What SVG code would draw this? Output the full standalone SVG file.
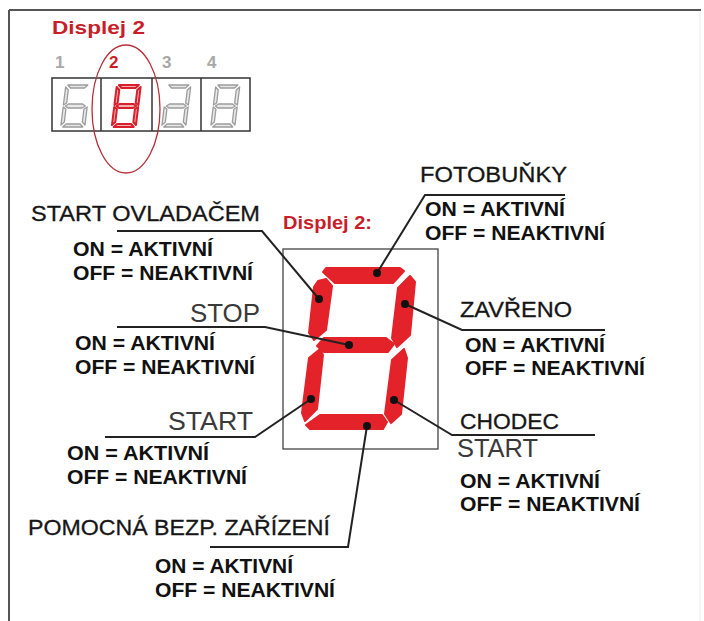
<svg xmlns="http://www.w3.org/2000/svg" xmlns:xlink="http://www.w3.org/1999/xlink" width="704" height="621" viewBox="0 0 704 621">
<style>
.lbl{font-family:"Liberation Sans",Arial,sans-serif;font-size:22px;fill:#161616;stroke:#161616;stroke-width:0.3;}
.gl{font-family:"Liberation Sans",Arial,sans-serif;font-size:25px;fill:#3a3a3a;}
.st{font-family:"Liberation Sans",Arial,sans-serif;font-size:21px;font-weight:bold;fill:#111;}
.red{font-family:"Liberation Sans",Arial,sans-serif;font-weight:bold;fill:#c81e2a;}
.num{font-family:"Liberation Sans",Arial,sans-serif;font-size:17px;font-weight:bold;fill:#a8a8a8;}
.lead{fill:none;stroke:#222;stroke-width:2;stroke-linejoin:miter;}
.seg{fill:#e3222a;stroke:#e3222a;stroke-width:2;stroke-linejoin:round;}
.dot{fill:#111;}
.sg{fill:#e8e8e8;stroke:#9c9c9c;stroke-width:1.3;stroke-linejoin:round;}
.sr{fill:#f2b3b5;stroke:#d81f2a;stroke-width:2;stroke-linejoin:round;}
</style>
<defs>
<g id="sTop"><path d="M3,1 L23,1 L20,4 L6,4 Z"/></g>
<g id="sUL"><path d="M1,3 L4,6 L4,19 L1,21 Z"/></g>
<g id="sUR"><path d="M25,3 L25,21 L22,19 L22,6 Z"/></g>
<g id="sMid"><path d="M3,22 L6,20 L20,20 L23,22 L20,24 L6,24 Z"/></g>
<g id="sLL"><path d="M1,23 L4,25 L4,38 L1,41 Z"/></g>
<g id="sLR"><path d="M25,23 L25,41 L22,38 L22,25 Z"/></g>
<g id="sBot"><path d="M3,43 L6,40 L20,40 L23,43 Z"/></g>
</defs>
<rect x="0" y="0" width="704" height="621" fill="#fff"/>
<g id="frame">
<line x1="9" y1="10" x2="701" y2="10" stroke="#555" stroke-width="2"/>
<line x1="9" y1="10" x2="9" y2="621" stroke="#555" stroke-width="2"/>
<line x1="700" y1="11" x2="700" y2="621" stroke="#eee" stroke-width="1"/>
</g>
<g id="mini-display">
<text class="red" x="52" y="34" font-size="19" textLength="93" lengthAdjust="spacingAndGlyphs">Displej 2</text>
<text class="num" x="55" y="68">1</text>
<text class="num" x="109" y="68" style="fill:#c81e2a">2</text>
<text class="num" x="162" y="68">3</text>
<text class="num" x="207" y="68">4</text>
<rect x="52" y="78" width="198" height="53" fill="none" stroke="#333" stroke-width="1.5"/>
<line x1="101" y1="78" x2="101" y2="131" stroke="#333" stroke-width="1.5"/>
<line x1="152" y1="78" x2="152" y2="131" stroke="#333" stroke-width="1.5"/>
<line x1="201" y1="78" x2="201" y2="131" stroke="#333" stroke-width="1.5"/>
<g class="sg" transform="translate(65,84) skewX(-7)">
<use xlink:href="#sTop"/><use xlink:href="#sUL"/><use xlink:href="#sMid"/><use xlink:href="#sLL"/><use xlink:href="#sLR"/><use xlink:href="#sBot"/>
</g>
<g class="sr" transform="translate(116,84) skewX(-7)">
<use xlink:href="#sTop"/><use xlink:href="#sUL"/><use xlink:href="#sUR"/><use xlink:href="#sMid"/><use xlink:href="#sLL"/><use xlink:href="#sLR"/><use xlink:href="#sBot"/>
</g>
<g class="sg" transform="translate(166,84) skewX(-7)">
<use xlink:href="#sTop"/><use xlink:href="#sUR"/><use xlink:href="#sMid"/><use xlink:href="#sLL"/><use xlink:href="#sLR"/><use xlink:href="#sBot"/>
</g>
<g class="sg" transform="translate(215,84) skewX(-7)">
<use xlink:href="#sTop"/><use xlink:href="#sUL"/><use xlink:href="#sUR"/><use xlink:href="#sMid"/><use xlink:href="#sLL"/><use xlink:href="#sLR"/><use xlink:href="#sBot"/>
</g>
<ellipse cx="126" cy="109" rx="34" ry="64" fill="none" stroke="#b8303a" stroke-width="1.3"/>
</g>
<g id="main-display">
<text class="red" x="283" y="229" font-size="18" textLength="89" lengthAdjust="spacingAndGlyphs">Displej 2:</text>
<rect x="283" y="249" width="155" height="200" fill="none" stroke="#444" stroke-width="1.3"/>
<polygon class="seg" points="326,268 400,268 404,271 393,283 335,283 323,272"/>
<polygon class="seg" points="318,281 326,279 332,286 326,330 314,340 309,333 314,287"/>
<polygon class="seg" points="398,288 410,276 415,282 410,335 397,347 392,338"/>
<polygon class="seg" points="324,338 386,338 394,344 388,352 324,352 317,346"/>
<polygon class="seg" points="309,358 320,349 323,355 317,409 305,421 302,413"/>
<polygon class="seg" points="392,360 404,349 407,358 401,414 391,423 385,414"/>
<polygon class="seg" points="320,415 382,415 387,422 383,429 310,429 306,425"/>
</g>
<g id="connectors">
<polyline class="lead" points="117,231 262,231 319,299"/>
<polyline class="lead" points="117,327 265,327 349,345"/>
<polyline class="lead" points="105,437 255,437 311,399"/>
<polyline class="lead" points="565,195 425,195 377,273"/>
<polyline class="lead" points="405,304 462,330 605,330"/>
<polyline class="lead" points="394,400 452,435 595,435"/>
<polyline class="lead" points="367,426 348,547 210,547"/>
</g>
<g id="dots">
<circle class="dot" cx="377" cy="273" r="4"/>
<circle class="dot" cx="319" cy="299" r="4"/>
<circle class="dot" cx="405" cy="304" r="4"/>
<circle class="dot" cx="349" cy="345" r="4"/>
<circle class="dot" cx="311" cy="399" r="4"/>
<circle class="dot" cx="394" cy="400" r="4"/>
<circle class="dot" cx="367" cy="426" r="4"/>
</g>
<g id="start-ovladacem">
<text class="lbl" x="31" y="221" textLength="229" lengthAdjust="spacingAndGlyphs">START OVLADAČEM</text>
<text class="st" x="73" y="256" textLength="140" lengthAdjust="spacingAndGlyphs">ON = AKTIVNÍ</text>
<text class="st" x="73" y="280" textLength="180" lengthAdjust="spacingAndGlyphs">OFF = NEAKTIVNÍ</text>
</g>
<g id="stop">
<text class="gl" x="190" y="322" textLength="70" lengthAdjust="spacingAndGlyphs">STOP</text>
<text class="st" x="75" y="350" textLength="140" lengthAdjust="spacingAndGlyphs">ON = AKTIVNÍ</text>
<text class="st" x="75" y="374" textLength="180" lengthAdjust="spacingAndGlyphs">OFF = NEAKTIVNÍ</text>
</g>
<g id="start">
<text class="gl" x="168" y="430" textLength="85" lengthAdjust="spacingAndGlyphs">START</text>
<text class="st" x="67" y="460" textLength="142" lengthAdjust="spacingAndGlyphs">ON = AKTIVNÍ</text>
<text class="st" x="67" y="484" textLength="180" lengthAdjust="spacingAndGlyphs">OFF = NEAKTIVNÍ</text>
</g>
<g id="fotobunky">
<text class="lbl" x="420" y="182" textLength="147" lengthAdjust="spacingAndGlyphs">FOTOBUŇKY</text>
<text class="st" x="425" y="216" textLength="140" lengthAdjust="spacingAndGlyphs">ON = AKTIVNÍ</text>
<text class="st" x="425" y="240" textLength="180" lengthAdjust="spacingAndGlyphs">OFF = NEAKTIVNÍ</text>
</g>
<g id="zavreno">
<text class="lbl" x="460" y="317" textLength="112" lengthAdjust="spacingAndGlyphs">ZAVŘENO</text>
<text class="st" x="465" y="352" textLength="140" lengthAdjust="spacingAndGlyphs">ON = AKTIVNÍ</text>
<text class="st" x="465" y="375" textLength="180" lengthAdjust="spacingAndGlyphs">OFF = NEAKTIVNÍ</text>
</g>
<g id="chodec">
<text class="lbl" x="460" y="429" textLength="99" lengthAdjust="spacingAndGlyphs">CHODEC</text>
<text class="gl" x="457" y="457" textLength="81" lengthAdjust="spacingAndGlyphs">START</text>
<text class="st" x="460" y="488" textLength="140" lengthAdjust="spacingAndGlyphs">ON = AKTIVNÍ</text>
<text class="st" x="460" y="511" textLength="180" lengthAdjust="spacingAndGlyphs">OFF = NEAKTIVNÍ</text>
</g>
<g id="pomocna">
<text class="lbl" x="28" y="535" textLength="302" lengthAdjust="spacingAndGlyphs">POMOCNÁ BEZP. ZAŘÍZENÍ</text>
<text class="st" x="155" y="573" textLength="138" lengthAdjust="spacingAndGlyphs">ON = AKTIVNÍ</text>
<text class="st" x="155" y="597" textLength="180" lengthAdjust="spacingAndGlyphs">OFF = NEAKTIVNÍ</text>
</g>
</svg>
